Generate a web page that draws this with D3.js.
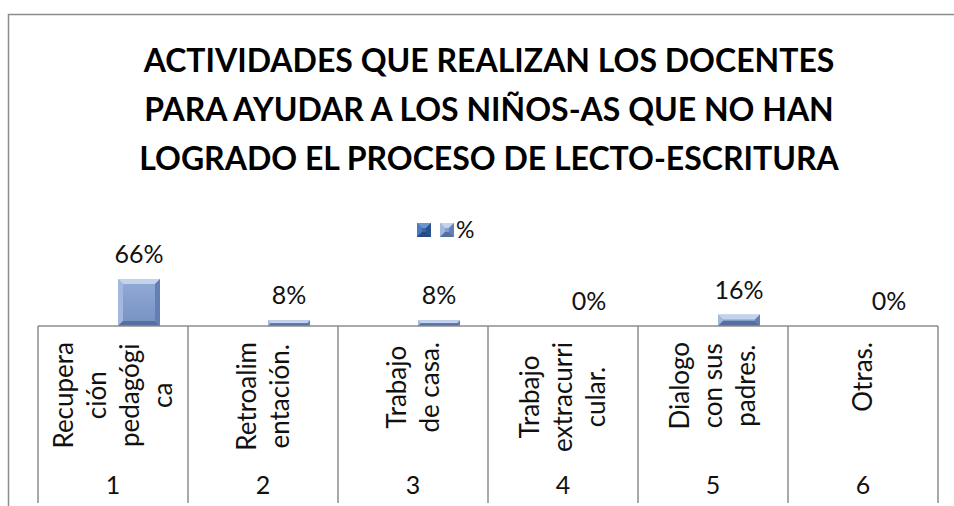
<!DOCTYPE html>
<html>
<head>
<meta charset="utf-8">
<script src="https://cdn.jsdelivr.net/npm/d3@7"></script>
<style>
  body { margin: 0; background: #fff; }
  svg { display: block; font-family: Lato, "Open Sans", sans-serif; }
</style>
</head>
<body>
<svg id="chart" width="954" height="506"></svg>
<script>
// chart data
var titleLines = [
    "ACTIVIDADES QUE REALIZAN LOS DOCENTES",
    "PARA AYUDAR A LOS NIÑOS-AS QUE NO HAN",
    "LOGRADO EL PROCESO DE LECTO-ESCRITURA"
];
var categories = ["1", "2", "3", "4", "5", "6"];
var categoryLabels = [
    ["Recupera", "ción", "pedagógi", "ca"],
    ["Retroalim", "entación."],
    ["Trabajo", "de casa."],
    ["Trabajo", "extracurri", "cular."],
    ["Dialogo", "con sus", "padres."],
    ["Otras."]
];
var seriesNames = ["", "%"];
var blankValues = [null, null, null, null, null, null];
var percentValues = [0.66, 0.08, 0.08, 0, 0.16, 0];

var svg = d3.select("#chart");
var defs = svg.append("defs");

var faceGrad = defs.append("linearGradient").attr("id", "face")
    .attr("x1", 0).attr("y1", 0).attr("x2", 0).attr("y2", 1);
faceGrad.append("stop").attr("offset", "0%").attr("stop-color", "#93abd6");
faceGrad.append("stop").attr("offset", "100%").attr("stop-color", "#7690c2");

var darkGrad = defs.append("linearGradient").attr("id", "dark")
    .attr("x1", 0).attr("y1", 0).attr("x2", 0).attr("y2", 1);
darkGrad.append("stop").attr("offset", "0%").attr("stop-color", "#3f6fb5");
darkGrad.append("stop").attr("offset", "100%").attr("stop-color", "#2d5a9c");

// outer chart border (runs off the right and bottom edge)
svg.append("rect")
    .attr("x", 8.5).attr("y", 14.5)
    .attr("width", 1000).attr("height", 600)
    .attr("fill", "none").attr("stroke", "#8c8c8c").attr("stroke-width", 1.5);

// title
svg.append("g").selectAll("text")
    .data(titleLines)
    .enter().append("text")
    .attr("x", 489)
    .attr("y", function (d, i) { return 72 + i * 49; })
    .attr("text-anchor", "middle")
    .attr("font-weight", "bold")
    .attr("font-size", 32)
    .attr("fill", "#000")
    .text(function (d) { return d; });

var x0 = d3.scaleBand().domain(categories).range([38, 938]).padding(0);
var x1 = d3.scaleBand().domain(seriesNames).range([38, 122]).padding(0);
var y = d3.scaleLinear().domain([0, 0.66]).range([326, 279]);

// bevelled bar
function bevelBar(g, x, top, w, bottom, dark) {
    var h = bottom - top;
    if (h <= 0) return;
    var b = Math.min(5, h / 2, w / 2);
    var x2 = x + w;
    g.append("rect").attr("x", x).attr("y", top).attr("width", w).attr("height", h)
        .attr("fill", dark ? "url(#dark)" : "url(#face)");
    var poly = function (pts, fill) {
        g.append("polygon")
            .attr("points", pts.map(function (p) { return p.join(","); }).join(" "))
            .attr("fill", fill);
    };
    poly([[x, top], [x2, top], [x2 - b, top + b], [x + b, top + b]], dark ? "#6f95cf" : "#c3d3ee");
    poly([[x, top], [x + b, top + b], [x + b, bottom - b], [x, bottom]], dark ? "#4a7bc0" : "#a3b8de");
    poly([[x2, top], [x2, bottom], [x2 - b, bottom - b], [x2 - b, top + b]], dark ? "#2a5290" : "#6480b3");
    poly([[x, bottom], [x + b, bottom - b], [x2 - b, bottom - b], [x2, bottom]], dark ? "#234a85" : "#55709f");
}

var bars = svg.append("g");
percentValues.forEach(function (v, i) {
    var xb = x0(categories[i]) + x1("%");
    bevelBar(bars, xb, y(v), x1.bandwidth(), y(0), false);
});
blankValues.forEach(function (v, i) {
    if (v == null) return;
    bevelBar(bars, x0(categories[i]) + x1(""), y(v), x1.bandwidth(), y(0), true);
});

// value labels
svg.append("g").selectAll("text")
    .data(percentValues)
    .enter().append("text")
    .attr("x", function (d, i) { return x0(categories[i]) + x1("%") + x1.bandwidth() / 2; })
    .attr("y", function (d) { return y(d) - 16; })
    .attr("text-anchor", "middle")
    .attr("font-size", 25)
    .attr("fill", "#111")
    .text(function (d) { return Math.round(d * 100) + "%"; });

// category axis, two levels of boxes
var axis = svg.append("g").attr("stroke", "#8c8c8c").attr("stroke-width", 1.5);
axis.append("line")
    .attr("x1", x0.range()[0]).attr("x2", x0.range()[1])
    .attr("y1", y(0)).attr("y2", y(0));
var edges = categories.map(function (c) { return x0(c); }).concat([x0.range()[1]]);
axis.selectAll("line.div")
    .data(edges)
    .enter().append("line")
    .attr("class", "div")
    .attr("x1", function (d) { return d; }).attr("x2", function (d) { return d; })
    .attr("y1", y(0)).attr("y2", 503);

var labelTop = 342;
var labelGroups = svg.append("g").selectAll("g")
    .data(categoryLabels)
    .enter().append("g");

labelGroups.each(function (lines, i) {
    var g = d3.select(this);
    var cx = x0(categories[i]) + x0.bandwidth() / 2;
    var n = lines.length;
    var texts = lines.map(function (line, j) {
        return g.append("text")
            .attr("text-anchor", "middle")
            .attr("font-size", 26)
            .attr("fill", "#111")
            .text(line);
    });
    var maxLen = d3.max(texts, function (t) { return t.node().getComputedTextLength(); });
    var cy = labelTop + maxLen / 2;
    texts.forEach(function (t, j) {
        var bx = cx + (j - (n - 1) / 2) * 33 + 9;
        t.attr("transform", "translate(" + bx + "," + cy + ") rotate(-90)");
    });
});

svg.append("g").selectAll("text")
    .data(categories)
    .enter().append("text")
    .attr("x", function (d) { return x0(d) + x0.bandwidth() / 2; })
    .attr("y", 494)
    .attr("text-anchor", "middle")
    .attr("font-size", 25)
    .attr("fill", "#111")
    .text(function (d) { return d; });

// legend
var legend = svg.append("g");
seriesNames.forEach(function (s, i) {
    bevelBar(legend, 417 + i * 23, 223, 14, 237, i === 0);
});
legend.append("text")
    .attr("x", 456).attr("y", 238)
    .attr("font-size", 23)
    .attr("fill", "#111")
    .text(seriesNames[1]);
</script>
</body>
</html>
